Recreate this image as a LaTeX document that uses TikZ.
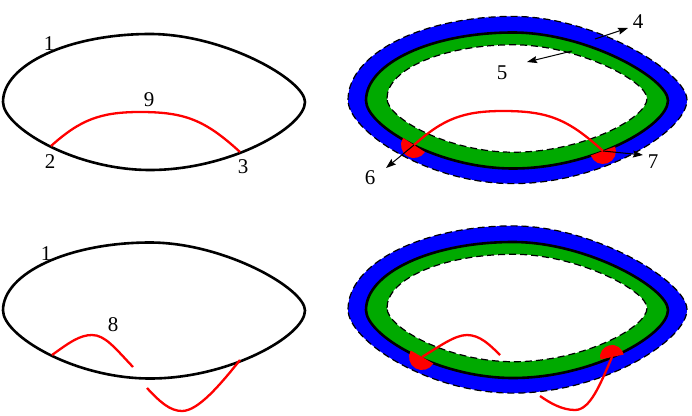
\documentclass[tikz,border=0pt]{standalone}
\usepackage{fontspec}
\setmainfont{Liberation Serif}
\usetikzlibrary{arrows.meta}
\definecolor{bandblue}{RGB}{0,0,255}
\definecolor{bandgreen}{RGB}{0,170,0}
\begin{document}
\begin{tikzpicture}[x=1pt,y=-1pt,
  lens/.style={insert path={(-151,0) .. controls (-151,-37.5) and (-85,-68) .. (-4,-68)
    .. controls (70,-68) and (151,-22) .. (151,0)
    .. controls (151,25) and (76,68) .. (-4,68)
    .. controls (-80,68) and (-151,25) .. cycle}},
  outline/.style={line width=2.6pt, draw=black},
  redline/.style={line width=2.3pt, draw=red},
  dashedge/.style={line width=1.2pt, draw=black, dash pattern=on 7pt off 4pt},
  lbl/.style={font=\fontsize{21}{25}\selectfont, inner sep=0pt},
  pointer/.style={line width=1pt, draw=black, -{Stealth[length=10pt,width=7pt,inset=1.5pt]}}
]
\useasboundingbox (0,0) rectangle (692,415);

% ---------- top left ----------
\begin{scope}[shift={(154,102)}]
  \path[outline, lens];
\end{scope}
\draw[redline] (51,146) .. controls (80,120) and (100,112) .. (140,112)
  .. controls (185,112) and (205,120) .. (240,152);
\node[lbl] (l1a) at (49,44) {1};
\node[lbl] (l9) at (149,100) {9};
\node[lbl] (l2) at (50,162) {2};
\node[lbl] (l3) at (243,167) {3};

% ---------- top right ----------
\begin{scope}[shift={(517.5,100)}, xscale=1.1225, yscale=1.23]
  \path[fill=bandblue, dashedge, lens];
\end{scope}
\begin{scope}[shift={(517,100.5)}]
  \path[fill=bandgreen, lens];
\end{scope}
\begin{scope}[shift={(517,98.5)}, xscale=0.861, yscale=0.79]
  \path[fill=white, dashedge, lens];
\end{scope}
\begin{scope}[shift={(517,100.5)}]
  \path[outline, lens];
\end{scope}
\begin{scope}[shift={(363,-1)}]
  \draw[redline] (51,146) .. controls (80,120) and (100,112) .. (140,112)
    .. controls (185,112) and (205,120) .. (240,152);
\end{scope}
\coordinate (p6) at (414,145);
\coordinate (p7) at (603,151);
\fill[red] (p6) ++(33:13) arc[start angle=33, end angle=213, radius=13] -- cycle;
\fill[red] (p7) ++(-20:13) arc[start angle=-20, end angle=160, radius=13] -- cycle;
\coordinate (a4s) at (595,39);
\coordinate (a4e) at (628,28);
\coordinate (a5s) at (572,51);
\coordinate (a5e) at (527,62);
\coordinate (a6e) at (386,168);
\coordinate (a7e) at (643,155);
\draw[pointer] (a4s) -- (a4e);
\draw[pointer] (a5s) -- (a5e);
\draw[pointer] (p6) -- (a6e);
\draw[pointer] (p7) -- (a7e);
\node[lbl] (l4) at (638,22) {4};
\node[lbl] (l5) at (502,73) {5};
\node[lbl] (l6) at (370,178) {6};
\node[lbl] (l7) at (653,162) {7};

% ---------- bottom left ----------
\begin{scope}[shift={(154,310.5)}]
  \path[outline, lens];
\end{scope}
\draw[redline] (52,355) .. controls (70,342) and (80,335) .. (92,335)
  .. controls (105,335) and (115,348) .. (133,367);
\draw[redline] (147,388) .. controls (160,402) and (170,411) .. (182,411)
  .. controls (198,411) and (220,385) .. (240,360);
\node[lbl] (l1b) at (46,254) {1};
\node[lbl] (l8) at (113,325) {8};

% ---------- bottom right ----------
\begin{scope}[shift={(517.5,309.5)}, xscale=1.1225, yscale=1.23]
  \path[fill=bandblue, dashedge, lens];
\end{scope}
\begin{scope}[shift={(517,310)}]
  \path[fill=bandgreen, lens];
\end{scope}
\begin{scope}[shift={(517,308)}, xscale=0.861, yscale=0.79]
  \path[fill=white, dashedge, lens];
\end{scope}
\begin{scope}[shift={(517,310)}]
  \path[outline, lens];
\end{scope}
\draw[redline] (422,357) .. controls (440,346) and (455,335) .. (467,335)
  .. controls (480,335) and (490,345) .. (500,355);
\draw[redline] (612,357) .. controls (600,385) and (590,410) .. (575,410)
  .. controls (562,410) and (550,403) .. (540,396);
\coordinate (q1) at (422,357);
\coordinate (q2) at (612,357);
\fill[red] (q1) ++(30:13) arc[start angle=30, end angle=210, radius=13] -- cycle;
\fill[red] (q2) ++(168:12) arc[start angle=168, end angle=348, radius=12] -- cycle;
\end{tikzpicture}
\end{document}
